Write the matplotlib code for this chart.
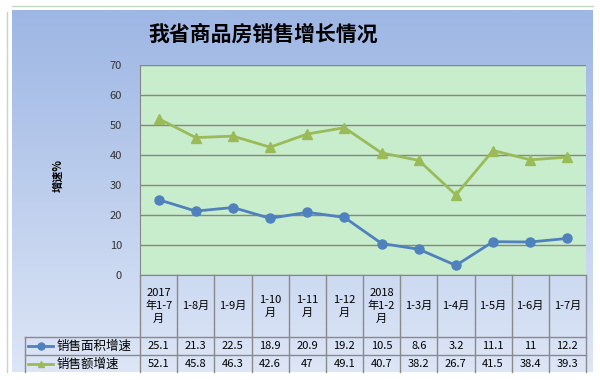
import numpy as np
import matplotlib
matplotlib.use('Agg')
import matplotlib.pyplot as plt

plt.rcParams['font.family'] = ['Noto Sans CJK SC', 'DejaVu Sans']

# 数据
categories = ['2017\n年1-7\n月', '1-8月', '1-9月', '1-10\n月', '1-11\n月', '1-12\n月',
              '2018\n年1-2\n月', '1-3月', '1-4月', '1-5月', '1-6月', '1-7月']
area_growth = [25.1, 21.3, 22.5, 18.9, 20.9, 19.2, 10.5, 8.6, 3.2, 11.1, 11, 12.2]
sales_growth = [52.1, 45.8, 46.3, 42.6, 47, 49.1, 40.7, 38.2, 26.7, 41.5, 38.4, 39.3]
area_labels = ['25.1', '21.3', '22.5', '18.9', '20.9', '19.2', '10.5', '8.6', '3.2', '11.1', '11', '12.2']
sales_labels = ['52.1', '45.8', '46.3', '42.6', '47', '49.1', '40.7', '38.2', '26.7', '41.5', '38.4', '39.3']
series_names = ['销售面积增速', '销售额增速']
title = '我省商品房销售增长情况'

blue = '#4f81bd'
green = '#9bbb59'
grid_c = '#868686'
W, H = 600, 380

fig = plt.figure(figsize=(6, 3.8), dpi=100)
fig.patch.set_facecolor('white')

# 外框细线
fig.add_artist(plt.Line2D([7 / W, 7 / W], [1 - 372 / H, 1 - 12 / H], color='#c4d9c4', lw=1))
fig.add_artist(plt.Line2D([12 / W, 593 / W], [1 - 6 / H, 1 - 6 / H], color='#c4d9c4', lw=1))

# 渐变背景
bg = fig.add_axes([12 / W, 1 - 372 / H, 581 / W, 362 / H])
top = np.array([157, 182, 228]) / 255
bot = np.array([221, 230, 246]) / 255
t = np.linspace(0, 1, 256)[:, None]
grad = (top[None, :] * (1 - t) + bot[None, :] * t)[:, None, :]
bg.imshow(grad, aspect='auto', extent=[0, 1, 0, 1])
bg.axis('off')
bg.set_zorder(0)

fig.text(263 / W, 1 - 34 / H, title, ha='center', va='center', fontsize=15,
         fontweight='bold', color='black')

# 图表区
ax = fig.add_axes([140 / W, 1 - 275 / H, 446 / W, 210 / H])
ax.set_zorder(2)
ax.set_facecolor('#c8edcc')
x = np.arange(len(categories))
ax.plot(x, sales_growth, color=green, lw=2, marker='^', ms=7, zorder=3)
ax.plot(x, area_growth, color=blue, lw=2, marker='o', ms=6.5, zorder=3)
ax.set_xlim(-0.5, len(categories) - 0.5)
ax.set_ylim(0, 70)
ax.set_yticks(range(0, 71, 10))
ax.set_xticks([])
ax.grid(axis='y', color=grid_c, lw=1)
ax.set_axisbelow(True)
ax.tick_params(axis='y', length=0, pad=13, labelsize=8, labelcolor='#333333')
for s in ['top', 'right']:
    ax.spines[s].set_visible(False)
for s in ['left', 'bottom']:
    ax.spines[s].set_color(grid_c)
fig.text(58 / W, 1 - 175 / H, '增速%', rotation=90, ha='center', va='center',
         fontsize=8, fontweight='bold')

# 数据表
col_w = 446 / len(categories)
tax = fig.add_axes([25 / W, 1 - 372 / H, 561 / W, 97 / H])
tax.set_zorder(2)
x_left = -0.5 - 115 / col_w
tax.set_xlim(x_left, len(categories) - 0.5)
tax.set_ylim(97, 0)
tax.axis('off')
lc = '#8a8a8a'
for k in range(len(categories) + 1):
    tax.plot([k - 0.5, k - 0.5], [0, 97], color=lc, lw=1, clip_on=False)
tax.plot([x_left, x_left], [62, 97], color=lc, lw=1, clip_on=False)
for yy in [62, 80]:
    tax.plot([x_left, len(categories) - 0.5], [yy, yy], color=lc, lw=1, clip_on=False)

for i, c in enumerate(categories):
    tax.text(i, 31, c, ha='center', va='center', fontsize=8, linespacing=1.35)
    tax.text(i, 71, area_labels[i], ha='center', va='center', fontsize=8)
    tax.text(i, 89, sales_labels[i], ha='center', va='center', fontsize=8)

for yy, name, col, mk in [(71, series_names[0], blue, 'o'), (89, series_names[1], green, '^')]:
    tax.plot([x_left + 3 / col_w, x_left + 28 / col_w], [yy, yy], color=col, lw=2, clip_on=False)
    tax.plot([x_left + 15.5 / col_w], [yy], marker=mk, color=col, ms=5, clip_on=False)
    tax.text(x_left + 32 / col_w, yy, name, ha='left', va='center', fontsize=9)

fig.savefig('out.png', dpi=100, facecolor='white')
